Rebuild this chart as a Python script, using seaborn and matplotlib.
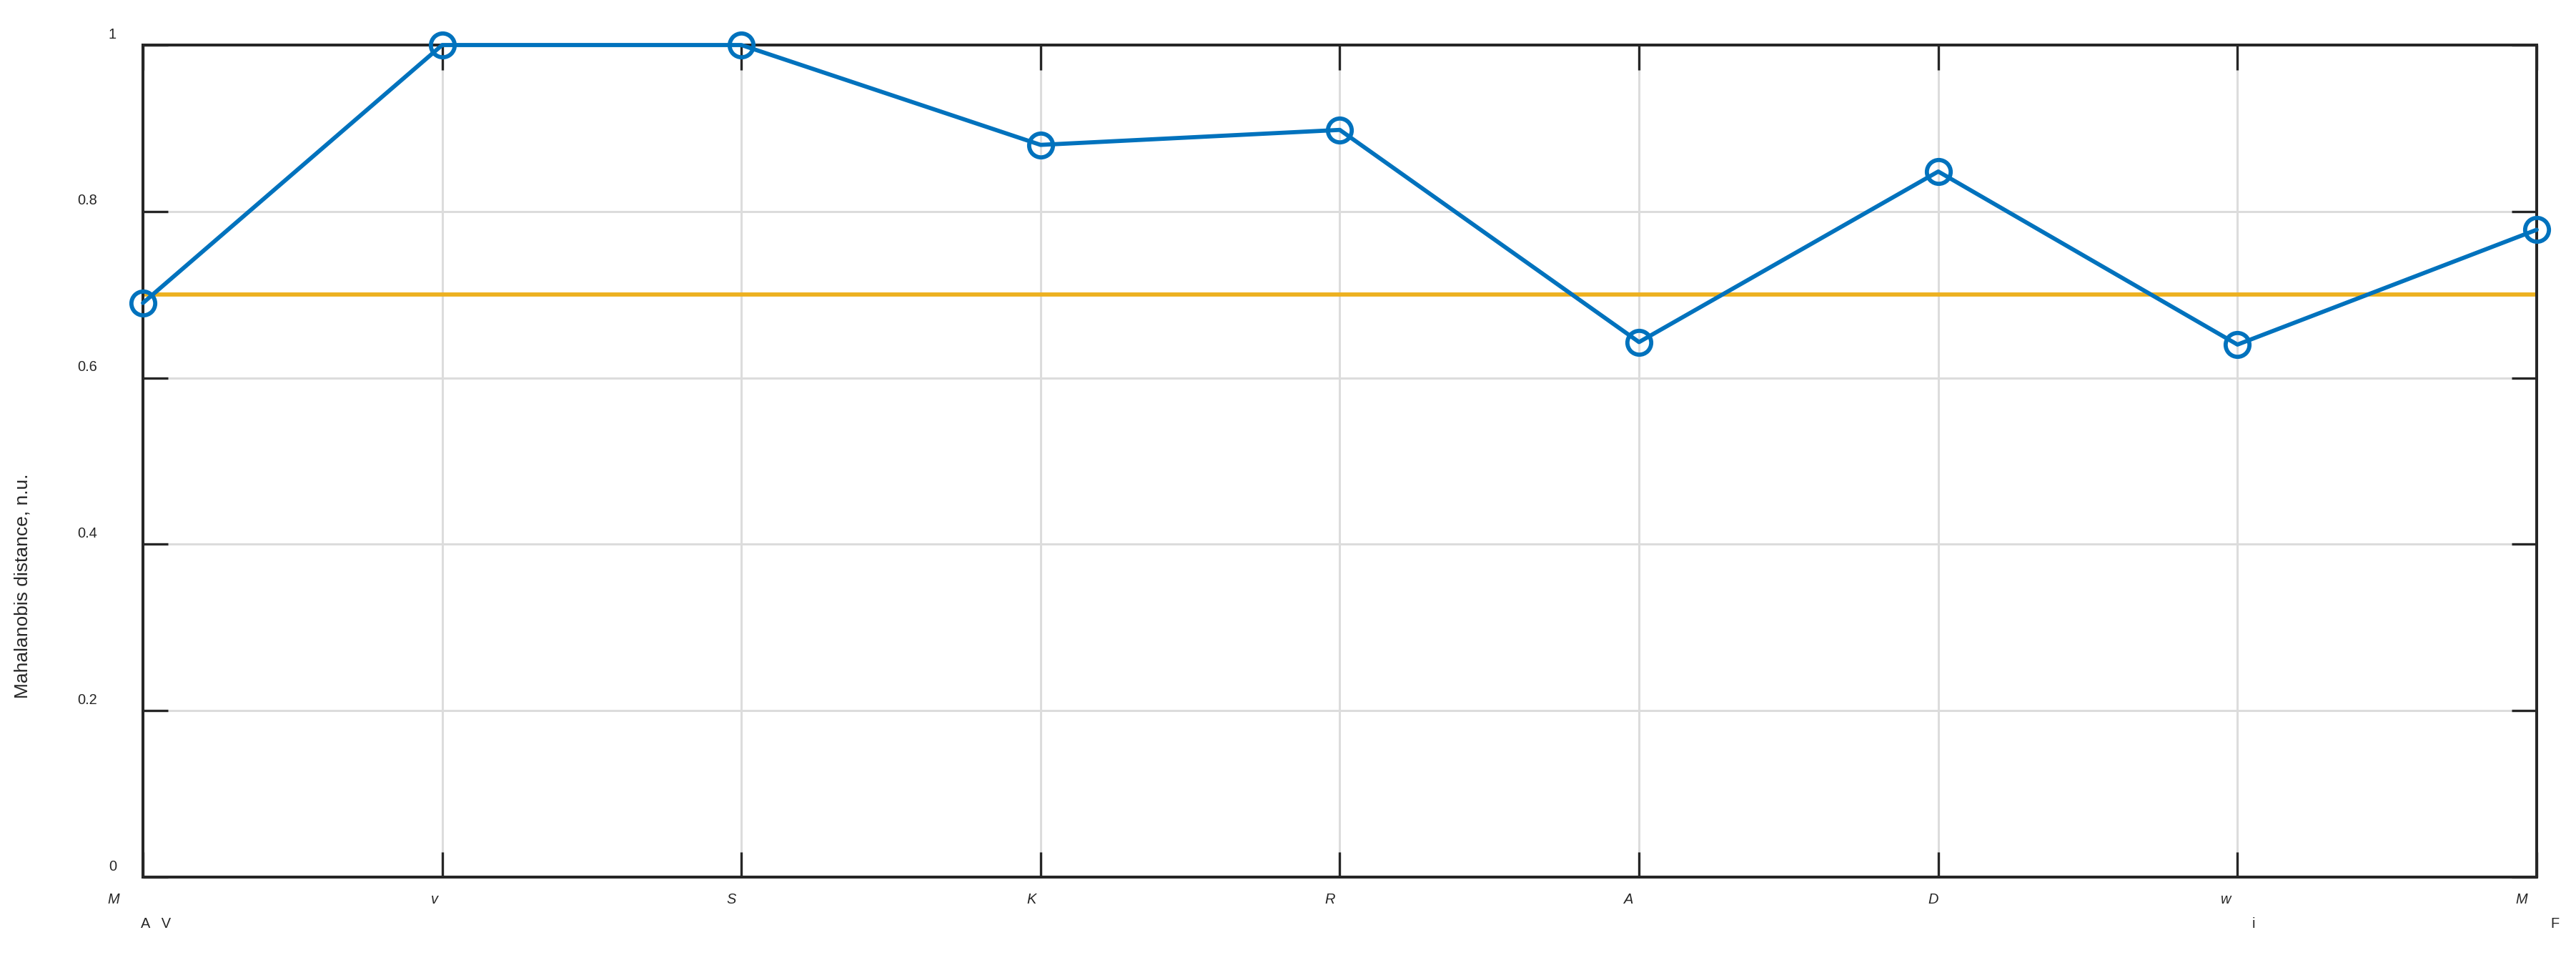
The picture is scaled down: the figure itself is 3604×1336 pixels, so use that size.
import matplotlib
matplotlib.use("Agg")
import matplotlib.pyplot as plt
import matplotlib.transforms as mtransforms
import seaborn as sns
import pandas as pd

positions = [1, 2, 3, 4, 5, 6, 7, 8, 9]
symbols = ['M', 'v', 'S', 'K', 'R', 'A', 'D', 'w', 'M']
subscripts = ['A   V', '', '', '', '', '', '', 'i', 'F']
distance = [0.690, 1.0, 1.0, 0.880, 0.898, 0.643, 0.848, 0.640, 0.778]
threshold = 0.7
y_ticks = [0, 0.2, 0.4, 0.6, 0.8, 1]
y_tick_labels = ['0', '0.2', '0.4', '0.6', '0.8', '1']

# pixel nudges to mimic the odd label placement of the original export
x_label_shift = [-41, -11, -14, -13, -14, -14, -7, -16, -21]
sub_shift = [18, 0, 0, 0, 0, 0, 0, 23, 25]

df = pd.DataFrame({'pos': positions, 'distance': distance})

sns.set_theme(style='white')
plt.rcParams['font.family'] = ['Liberation Sans', 'DejaVu Sans']

dpi = 200
fig = plt.figure(figsize=(3605 / dpi, 1336 / dpi), dpi=dpi)
ax = fig.add_axes([200 / 3605, 109 / 1336, 3349 / 3605, 1164 / 1336])

ax.axhline(threshold, color='#EDB120', lw=2.1, zorder=2)
sns.lineplot(data=df, x='pos', y='distance', ax=ax, color='#0072BD', lw=2.1,
             marker='o', markersize=12, markerfacecolor='none',
             markeredgecolor='#0072BD', markeredgewidth=2.1,
             clip_on=False, zorder=3)

ax.set_xlim(1, 9)
ax.set_ylim(0, 1)
ax.grid(True, color='#DCDCDC', lw=1.1)
ax.set_axisbelow(True)

for s in ax.spines.values():
    s.set_color('#262626')
    s.set_linewidth(1.45)

ax.tick_params(direction='in', length=12.6, width=1.2, colors='#262626',
               top=True, right=True, bottom=True, left=True, labelsize=7.2)
ax.tick_params(axis='x', pad=8)
ax.tick_params(axis='y', pad=13.3)

ax.set_xticks(positions)
ax.set_xticklabels(symbols, fontstyle='italic', fontsize=7.2, color='#262626')
ax.set_yticks(y_ticks)
ax.set_yticklabels(y_tick_labels, fontsize=7.2, color='#262626')
ax.set_xlabel('')
ax.set_ylabel('Mahalanobis distance, n.u.', fontsize=9.5, color='#262626')
ax.yaxis.set_label_coords(-0.0466, 0.35)

for pos, sub, dx in zip(positions, subscripts, sub_shift):
    if sub:
        ax.annotate(sub, xy=(pos, 0), xycoords=ax.get_xaxis_transform(),
                    xytext=(dx * 72 / dpi, -65 * 72 / dpi), textcoords='offset points',
                    ha='center', va='center', fontsize=7.2, color='#262626')

for lab, dx in zip(ax.get_xticklabels(), x_label_shift):
    off = mtransforms.ScaledTranslation(dx / dpi, 0, fig.dpi_scale_trans)
    lab.set_transform(lab.get_transform() + off)

for lab in ax.get_yticklabels():
    dx = -27 if len(lab.get_text()) > 1 else 0
    off = mtransforms.ScaledTranslation(dx / dpi, 17 / dpi, fig.dpi_scale_trans)
    lab.set_transform(lab.get_transform() + off)

fig.savefig('out.png', dpi=dpi, facecolor='white')
